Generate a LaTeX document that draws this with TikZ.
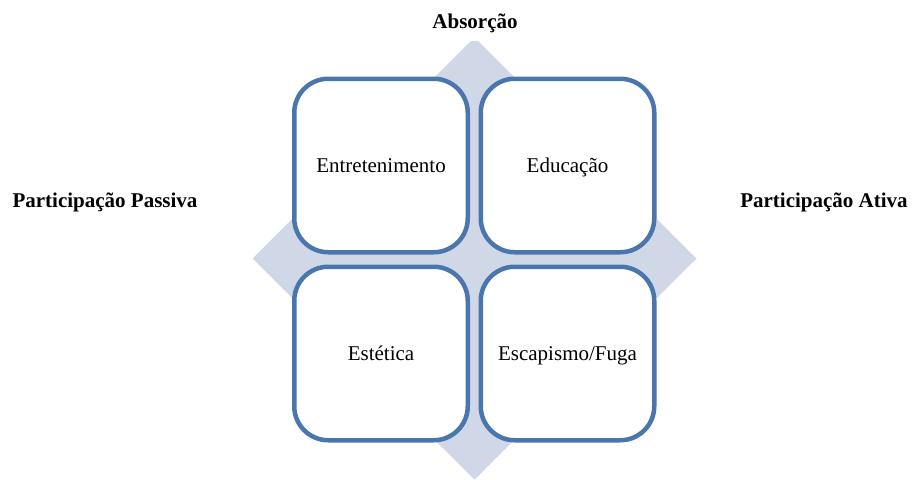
\documentclass[tikz,border=0pt]{standalone}
\usepackage{fontspec}
\setmainfont{Liberation Serif}
\definecolor{boxblue}{HTML}{4A76AE}
\definecolor{diamondfill}{HTML}{D0D8E8}
\tikzset{
  quad/.style={draw=boxblue, fill=white, line width=4.5pt, rounded corners=34pt,
    minimum width=173.5pt, minimum height=173.5pt, inner sep=0pt,
    text height=14pt, text depth=0pt, font=\fontsize{21}{25}\selectfont},
  axislabel/.style={anchor=base, inner sep=0pt, font=\fontsize{21}{25}\selectfont\bfseries}
}
\begin{document}
\begin{tikzpicture}[x=1pt,y=-1pt]
\useasboundingbox (0,0) rectangle (912,479);
\begin{scope}
  \clip (0,41) rectangle (912,479);
  \fill[diamondfill] (252.5,258.5) -- (474.5,37.5) -- (696.5,258.5) -- (474.5,479.5) -- cycle;
\end{scope}
\node[quad] (ent) at (381,165.5) {Entretenimento};
\node[quad] (edu) at (567.5,165.5) {Educação};
\node[quad] (est) at (381,353.5) {Estética};
\node[quad] (esc) at (567.5,353.5) {Escapismo/Fuga};
\node[axislabel] (abs) at (475,28) {Absorção};
\node[axislabel] (pas) at (105,207) {Participação Passiva};
\node[axislabel] (ati) at (824,207) {Participação Ativa};
\end{tikzpicture}
\end{document}
